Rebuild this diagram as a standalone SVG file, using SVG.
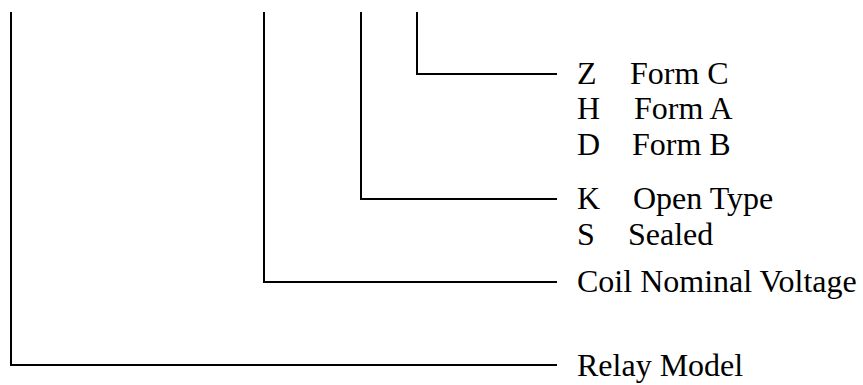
<svg xmlns="http://www.w3.org/2000/svg" width="863" height="385" viewBox="0 0 863 385">
<style>
.c{fill:none;stroke:#000;stroke-width:2}
text{font-family:"Liberation Serif","Times New Roman",serif;font-size:32px;fill:#000}
</style>
<rect width="863" height="385" fill="#fff"/>
<g id="connectors">
<polyline class="c" points="11,12 11,365 557,365"/>
<polyline class="c" points="264,12 264,282 557,282"/>
<polyline class="c" points="361,12 361,199 557,199"/>
<polyline class="c" points="417,12 417,74 557,74"/>
</g>
<g id="z"><text x="577" y="84">Z</text><text x="630" y="84">Form C</text></g>
<g id="h"><text x="577" y="119">H</text><text x="634" y="119">Form A</text></g>
<g id="d"><text x="577" y="155">D</text><text x="632" y="155">Form B</text></g>
<g id="k"><text x="577" y="209">K</text><text x="633" y="209">Open Type</text></g>
<g id="s"><text x="577" y="245">S</text><text x="628" y="245">Sealed</text></g>
<g id="coil"><text x="577" y="292">Coil Nominal Voltage</text></g>
<g id="relay"><text x="577" y="376">Relay Model</text></g>
</svg>
